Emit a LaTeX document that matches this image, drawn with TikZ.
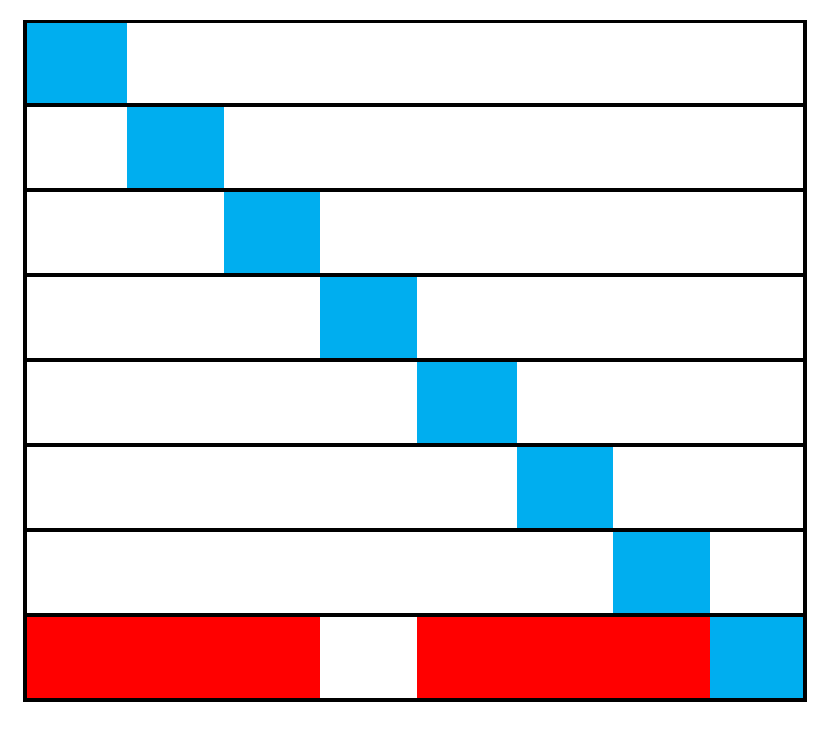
\documentclass[tikz,border=0pt]{standalone}
\definecolor{cellblue}{RGB}{0,174,239}
\definecolor{cellred}{RGB}{255,0,0}
\tikzset{
  bluecell/.style={fill=cellblue, draw=none},
  redcell/.style={fill=cellred, draw=none},
  gridline/.style={line width=3.5pt, black}
}
\begin{document}
\begin{tikzpicture}[x=1pt,y=-1pt]
\useasboundingbox (0,0) rectangle (830,741);
% blue diagonal cells
\fill[bluecell] (25,21) rectangle (127,105);
\fill[bluecell] (127,105) rectangle (224,190);
\fill[bluecell] (224,190) rectangle (320,275);
\fill[bluecell] (320,275) rectangle (417,360);
\fill[bluecell] (417,360) rectangle (517,445);
\fill[bluecell] (517,445) rectangle (613,530);
\fill[bluecell] (613,530) rectangle (710,615);
\fill[bluecell] (710,615) rectangle (805,700);
% red cells in last row
\fill[redcell] (25,615) rectangle (320,700);
\fill[redcell] (417,615) rectangle (710,700);
% horizontal row lines
\foreach \y in {105,190,275,360,445,530,615}
  \draw[gridline] (25,\y) -- (805,\y);
% outer frame
\draw[gridline] (25,21.5) rectangle (805,700);
\end{tikzpicture}
\end{document}
